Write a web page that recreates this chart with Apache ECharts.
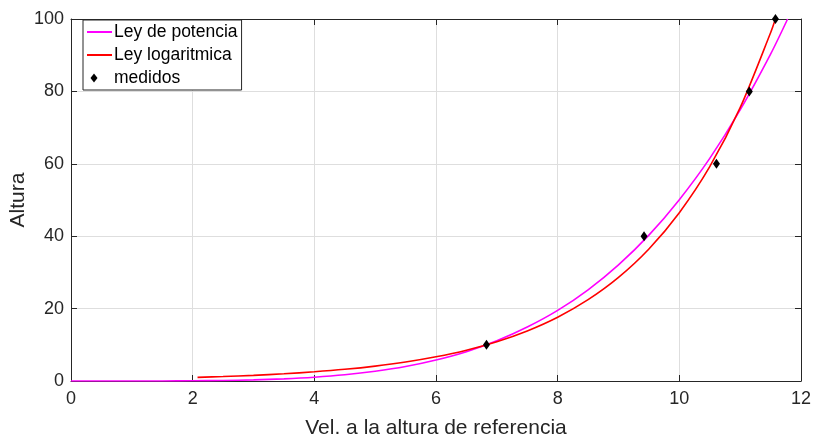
<!DOCTYPE html>
<html>
<head>
<meta charset="utf-8">
<script src="https://cdn.jsdelivr.net/npm/echarts@6/dist/echarts.min.js"></script>
<style>
html,body{margin:0;padding:0;background:#fff;}
#chart{width:815px;height:437px;}
</style>
</head>
<body>
<div id="chart"></div>
<script>
// Power law curve (magenta): [velocity, height]
var potenciaX = [0, 0.5, 1, 1.5, 2, 2.5, 3, 3.5, 4, 4.5, 5, 5.5, 6, 6.5, 7, 7.5, 8, 8.5, 9, 9.5, 10, 10.5, 11, 11.5, 11.78];
var potenciaY = [0, 0, 0, 0.02, 0.06, 0.14, 0.31, 0.6, 1.05, 1.72, 2.69, 4.0, 5.8, 8.1, 11.1, 14.9, 19.5, 25.2, 32.1, 40.3, 50.1, 61.5, 74.9, 90.3, 100];
// Logarithmic law curve (red)
var logX = [2.08, 2.5, 3, 3.5, 4, 4.5, 5, 5.5, 6, 6.5, 7, 7.5, 8, 8.5, 9, 9.5, 10, 10.5, 11, 11.5, 11.58];
var logY = [1.0, 1.23, 1.56, 1.99, 2.54, 3.23, 4.12, 5.25, 6.69, 8.52, 10.86, 13.84, 17.63, 22.47, 28.63, 36.48, 46.5, 59.2, 75.5, 96.2, 100];
// Measured points
var medX = [6.83, 9.42, 10.61, 11.15, 11.58];
var medY = [10, 40, 60, 80, 100];

var xTicks = [0, 2, 4, 6, 8, 10, 12];
var yTicks = [0, 20, 40, 60, 80, 100];

function pairs(xs, ys) { return xs.map(function (x, i) { return [x, ys[i]]; }); }

var FONT = 'Liberation Sans';
var TXT = '#262626';

var chart = echarts.init(document.getElementById('chart'), null, {renderer: 'canvas'});
chart.setOption({
  animation: false,
  backgroundColor: '#ffffff',
  textStyle: {fontFamily: FONT, color: TXT},
  grid: {left: 71, right: 14, top: 19, bottom: 56, containLabel: false, outerBoundsMode: 'none'},
  legend: {
    orient: 'vertical',
    left: 83, top: 20,
    padding: [3, 4, 3, 3],
    itemWidth: 25, itemHeight: 9, itemGap: 5,
    backgroundColor: '#ffffff',
    borderColor: TXT, borderWidth: 1,
    textStyle: {fontFamily: FONT, fontSize: 17.5, color: '#000', lineHeight: 18, padding: [0, 0, 0, -3]},
    data: [
      {name: 'Ley de potencia', itemStyle: {opacity: 0}},
      {name: 'Ley logaritmica', itemStyle: {opacity: 0}},
      {name: 'medidos', icon: 'path://M0,0M7,0L10.5,4.5L7,9L3.5,4.5ZM25,9', itemStyle: {color: '#000000', opacity: 1}}
    ]
  },
  xAxis: [{
    type: 'value', min: 0, max: 12, interval: 2, position: 'bottom',
    name: 'Vel. a la altura de referencia', nameLocation: 'middle', nameGap: 37,
    nameMoveOverlap: false,
    nameTextStyle: {fontSize: 21, color: TXT, fontFamily: FONT},
    axisLine: {show: true, onZero: false, lineStyle: {color: TXT, width: 1}},
    axisTick: {show: true, inside: true, length: 6, lineStyle: {color: TXT}},
    axisLabel: {fontSize: 18, color: TXT, margin: 9, fontFamily: FONT,
      formatter: function (v) { return xTicks.indexOf(v) >= 0 ? String(v) : ''; }},
    splitLine: {show: true, lineStyle: {color: '#dedede', width: 1}}
  }, {
    type: 'value', min: 0, max: 12, interval: 2, position: 'top',
    axisLine: {show: true, onZero: false, lineStyle: {color: TXT, width: 1}},
    axisTick: {show: true, inside: true, length: 6, lineStyle: {color: TXT}},
    axisLabel: {show: false}, splitLine: {show: false}
  }],
  yAxis: [{
    type: 'value', min: 0, max: 100, interval: 20, position: 'left',
    name: 'Altura', nameLocation: 'middle', nameGap: 42,
    nameMoveOverlap: false,
    nameTextStyle: {fontSize: 21, color: TXT, fontFamily: FONT},
    axisLine: {show: true, onZero: false, lineStyle: {color: TXT, width: 1}},
    axisTick: {show: true, inside: true, length: 6, lineStyle: {color: TXT}},
    axisLabel: {fontSize: 18, color: TXT, margin: 7, fontFamily: FONT,
      formatter: function (v) { return yTicks.indexOf(v) >= 0 ? String(v) : ''; }},
    splitLine: {show: true, lineStyle: {color: '#dedede', width: 1}}
  }, {
    type: 'value', min: 0, max: 100, interval: 20, position: 'right',
    axisLine: {show: true, onZero: false, lineStyle: {color: TXT, width: 1}},
    axisTick: {show: true, inside: true, length: 6, lineStyle: {color: TXT}},
    axisLabel: {show: false}, splitLine: {show: false}
  }],
  series: [{
    name: 'Ley de potencia', type: 'line', xAxisIndex: 0, yAxisIndex: 0,
    data: pairs(potenciaX, potenciaY), symbol: 'none', smooth: 0.3,
    lineStyle: {color: '#ff00ff', width: 1.6}, itemStyle: {color: '#ff00ff'},
    clip: true
  }, {
    name: 'Ley logaritmica', type: 'line', xAxisIndex: 0, yAxisIndex: 0,
    data: pairs(logX, logY), symbol: 'none', smooth: 0.3,
    lineStyle: {color: '#ff0000', width: 1.6}, itemStyle: {color: '#ff0000'},
    clip: true
  }, {
    name: 'medidos', type: 'scatter', xAxisIndex: 0, yAxisIndex: 0,
    data: pairs(medX, medY), symbol: 'diamond', symbolSize: [7, 10],
    itemStyle: {color: '#000000', opacity: 1}, clip: false, z: 5
  }]
});
</script>
</body>
</html>
